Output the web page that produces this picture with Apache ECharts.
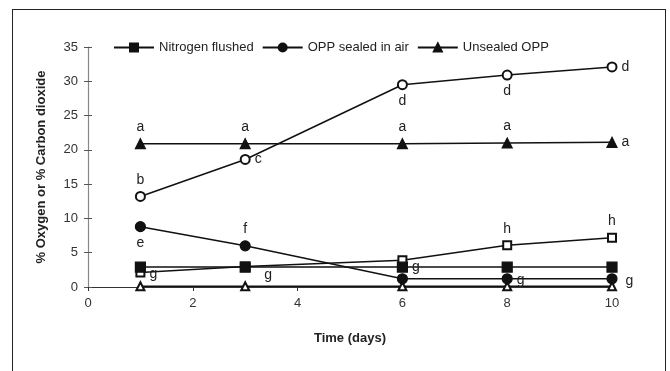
<!DOCTYPE html>
<html>
<head>
<meta charset="utf-8">
<script src="https://cdn.jsdelivr.net/npm/echarts@6/dist/echarts.min.js"></script>
<style>
html, body { margin: 0; padding: 0; background: #fff; }
#frame { position: absolute; left: 12px; top: 9px; width: 654px; height: 380px; border: 1px solid #222; box-sizing: border-box; }
#chart { position: absolute; left: 0; top: 0; width: 670px; height: 371px; }
</style>
</head>
<body>
<div id="frame"></div>
<div id="chart"></div>
<script>
// data
var days = [1, 3, 6, 8, 10];
var xTicks = [0, 2, 4, 6, 8, 10];
var yTicks = [0, 5, 10, 15, 20, 25, 30, 35];

// filled markers = one gas, open markers = the other
var nitrogenFilled = [2.9, 2.9, 2.9, 2.9, 2.9];
var nitrogenOpen   = [2.1, 3.0, 3.9, 6.1, 7.2];
var oppFilled      = [8.8, 6.0, 1.2, 1.2, 1.2];
var oppOpen        = [13.2, 18.6, 29.5, 30.9, 32.1];
var unsealedFilled = [20.9, 20.9, 20.9, 21.0, 21.1];
var unsealedOpen   = [0.1, 0.1, 0.1, 0.1, 0.1];

// significance letters
var nitrogenFilledTxt = ['', '', 'g', '', ''];
var nitrogenOpenTxt   = ['g', 'g', '', 'h', 'h'];
var oppFilledTxt      = ['e', 'f', '', 'g', 'g'];
var oppOpenTxt        = ['b', 'c', 'd', 'd', 'd'];
var unsealedFilledTxt = ['a', 'a', 'a', 'a', 'a'];
var unsealedOpenTxt   = ['', '', '', '', ''];

var chart = echarts.init(document.getElementById('chart'));

function pts(vals, txt, pos, off) {
  return vals.map(function (v, i) {
    var item = { value: [days[i], v] };
    if (txt[i]) {
      item.label = { show: true, formatter: txt[i], position: pos[i], distance: 4 };
      if (off && off[i]) item.label.offset = off[i];
    }
    return item;
  });
}

function line(name, symbol, vals, txt, pos, size, off, z) {
  return {
    name: name,
    type: 'line',
    symbol: symbol,
    symbolSize: size || 9,
    color: '#111',
    lineStyle: { color: '#111', width: 1.5 },
    itemStyle: { color: '#111', borderColor: '#111', borderWidth: 1.2 },
    label: { color: '#222', fontFamily: 'Liberation Sans', fontSize: 14 },
    data: pts(vals, txt, pos, off),
    z: z || 3
  };
}

var option = {
  animation: false,
  textStyle: { fontFamily: 'Liberation Sans' },
  legend: {
    top: 36,
    left: 108,
    itemWidth: 40,
    itemHeight: 10,
    itemGap: 8,
    textStyle: { fontSize: 13, color: '#222' },
    data: ['Nitrogen flushed', 'OPP sealed in air', 'Unsealed OPP']
  },
  grid: { left: 88, right: 58, top: 47, bottom: 84 },
  xAxis: {
    type: 'value',
    min: 0,
    max: 10,
    interval: 2,
    name: 'Time (days)',
    nameLocation: 'middle',
    nameGap: 45,
    nameTextStyle: { fontWeight: 'bold', fontSize: 13, color: '#222' },
    axisLine: { lineStyle: { color: '#333', width: 1.2 } },
    axisTick: { show: true, length: 4, lineStyle: { color: '#333' } },
    axisLabel: { fontSize: 13, color: '#333', margin: 10 },
    splitLine: { show: false }
  },
  yAxis: [{
    type: 'value',
    min: 0,
    max: 35,
    interval: 5,
    name: '% Oxygen or % Carbon dioxide',
    nameLocation: 'middle',
    nameGap: 40,
    nameTextStyle: { fontWeight: 'bold', fontSize: 13, color: '#222' },
    axisLine: { show: true, lineStyle: { color: '#888', width: 1.2 } },
    axisTick: { show: true, length: 4, lineStyle: { color: '#555' } },
    axisLabel: { fontSize: 13, color: '#333', margin: 10 },
    splitLine: { show: false }
  }, {
    type: 'value',
    position: 'left',
    min: 0,
    max: 35,
    interval: 5,
    axisLine: { show: false },
    axisTick: { show: true, inside: true, length: 4, lineStyle: { color: '#555' } },
    axisLabel: { show: false },
    splitLine: { show: false }
  }],
  series: [
    line('Nitrogen flushed', 'rect', nitrogenFilled, nitrogenFilledTxt,
      ['right', 'right', 'right', 'right', 'right'], 10, null, 5),
    line('Nitrogen flushed (open)', 'emptyRect', nitrogenOpen, nitrogenOpenTxt,
      ['right', 'right', 'right', 'top', 'top'], 8,
      [[0, 2], [10, 9], null, null, null]),
    line('OPP sealed in air', 'circle', oppFilled, oppFilledTxt,
      ['bottom', 'top', 'right', 'right', 'right'], 10,
      [null, null, null, [0, 1], [4, 2]], 4),
    line('OPP sealed in air (open)', 'emptyCircle', oppOpen, oppOpenTxt,
      ['top', 'right', 'bottom', 'bottom', 'right'], 9),
    line('Unsealed OPP', 'triangle', unsealedFilled, unsealedFilledTxt,
      ['top', 'top', 'top', 'top', 'right'], 10),
    line('Unsealed OPP (open)', 'emptyTriangle', unsealedOpen, unsealedOpenTxt,
      ['right', 'right', 'right', 'right', 'right'], 8)
  ]
};

chart.setOption(option);
</script>
</body>
</html>
